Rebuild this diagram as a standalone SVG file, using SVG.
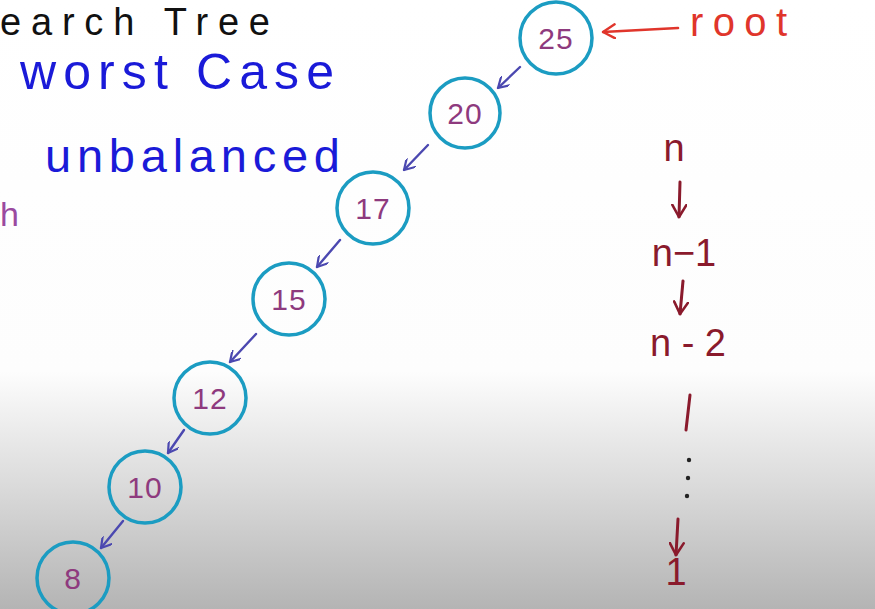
<svg xmlns="http://www.w3.org/2000/svg" width="875" height="609" viewBox="0 0 875 609">
<defs>
<linearGradient id="bg" x1="0" y1="0" x2="0" y2="609" gradientUnits="userSpaceOnUse">
<stop offset="0" stop-color="#ffffff"/>
<stop offset="0.61" stop-color="#fdfdfd"/>
<stop offset="0.8" stop-color="#dadada"/>
<stop offset="1" stop-color="#b4b4b4"/>
</linearGradient>
<marker id="ab" viewBox="0 0 12 12" refX="11" refY="6" markerWidth="12" markerHeight="12" markerUnits="userSpaceOnUse" orient="auto">
<path d="M1,0 L11,6 L1,12" fill="none" stroke="#4b48b0" stroke-width="2.2" stroke-linecap="round" stroke-linejoin="round"/>
</marker>
<marker id="ar" viewBox="0 0 14 16" refX="13" refY="8" markerWidth="14" markerHeight="16" markerUnits="userSpaceOnUse" orient="auto">
<path d="M1,1 L13,8 L1,15" fill="none" stroke="#e0352b" stroke-width="2.4" stroke-linecap="round" stroke-linejoin="round"/>
</marker>
<marker id="ad" viewBox="0 0 14 16" refX="13" refY="8" markerWidth="14" markerHeight="16" markerUnits="userSpaceOnUse" orient="auto">
<path d="M1,1 L13,8 L1,15" fill="none" stroke="#8a1a2c" stroke-width="2.6" stroke-linecap="round" stroke-linejoin="round"/>
</marker>
</defs>
<style>
.node circle{fill:none;stroke:#1b9cc2;stroke-width:3.5}
.node text{font-family:"Liberation Sans",sans-serif;font-size:30px;fill:#8e3a7e;text-anchor:middle;letter-spacing:1px}
.edge{stroke:#4b48b0;stroke-width:2.4;fill:none;stroke-linecap:round;marker-end:url(#ab)}
.blue{font-family:"Liberation Sans",sans-serif;fill:#1a1ad8}
.dr{font-family:"Liberation Sans",sans-serif;font-size:38px;fill:#8a1a2c;text-anchor:middle}
.dl{stroke:#8a1a2c;stroke-width:3;fill:none;stroke-linecap:round}
</style>
<rect width="875" height="609" fill="url(#bg)"/>
<text x="0" y="35" font-family="Liberation Sans,sans-serif" font-size="38" fill="#111" textLength="270" lengthAdjust="spacing">earch Tree</text>
<text class="blue" x="20" y="89" font-size="50" textLength="314" lengthAdjust="spacing">worst Case</text>
<text class="blue" x="45" y="172" font-size="47" textLength="295" lengthAdjust="spacing">unbalanced</text>
<text x="0" y="226" font-family="Liberation Sans,sans-serif" font-size="34" fill="#9a4aa0">h</text>
<g id="connectors">
<line class="edge" x1="520" y1="67" x2="498" y2="88"/>
<line class="edge" x1="428" y1="145" x2="404" y2="170"/>
<line class="edge" x1="340" y1="240" x2="317" y2="267"/>
<line class="edge" x1="256" y1="334" x2="230" y2="362"/>
<line class="edge" x1="184" y1="430" x2="168" y2="453"/>
<line class="edge" x1="123" y1="521" x2="101" y2="548"/>
<line x1="678" y1="28" x2="603" y2="32" stroke="#e0352b" stroke-width="2.6" stroke-linecap="round" marker-end="url(#ar)"/>
<line class="dl" x1="680" y1="182" x2="679" y2="217" marker-end="url(#ad)"/>
<line class="dl" x1="683" y1="281" x2="680" y2="314" marker-end="url(#ad)"/>
<line class="dl" x1="678" y1="519" x2="676" y2="555" marker-end="url(#ad)"/>
</g>
<text x="690" y="36" font-family="Liberation Sans,sans-serif" font-size="40" fill="#e0352b" textLength="97" lengthAdjust="spacing">root</text>
<g id="n25" class="node"><circle cx="556" cy="38" r="36"/><text x="556" y="49">25</text></g>
<g id="n20" class="node"><circle cx="465" cy="113" r="35"/><text x="465" y="124">20</text></g>
<g id="n17" class="node"><circle cx="373" cy="208" r="36"/><text x="373" y="219">17</text></g>
<g id="n15" class="node"><circle cx="289" cy="299" r="36"/><text x="289" y="310">15</text></g>
<g id="n12" class="node"><circle cx="210" cy="398" r="36"/><text x="210" y="409">12</text></g>
<g id="n10" class="node"><circle cx="145" cy="487" r="36"/><text x="145" y="498">10</text></g>
<g id="n8" class="node"><circle cx="73" cy="578" r="36"/><text x="73" y="589">8</text></g>
<text class="dr" x="674" y="161" font-size="44">n</text>
<text class="dr" x="684" y="266">n−1</text>
<text class="dr" x="688" y="356">n - 2</text>
<line class="dl" x1="690" y1="395" x2="686" y2="430"/>
<circle cx="689" cy="460" r="2.2" fill="#222"/>
<circle cx="688" cy="478" r="2.2" fill="#222"/>
<circle cx="687" cy="496" r="2.2" fill="#222"/>
<text class="dr" x="676" y="585" font-size="34">1</text>
</svg>
